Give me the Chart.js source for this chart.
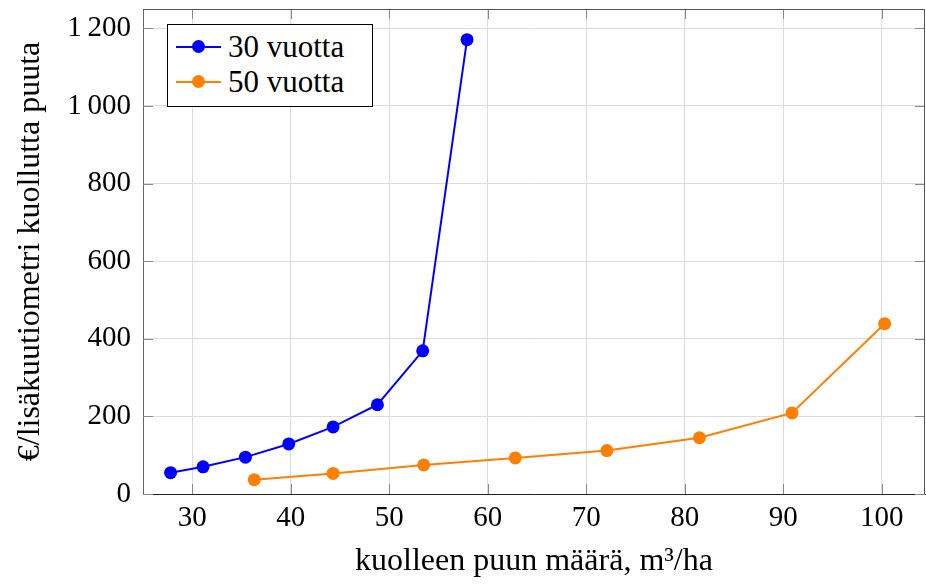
<!DOCTYPE html>
<html>
<head>
<meta charset="utf-8">
<script src="https://cdn.jsdelivr.net/npm/chart.js@4"></script>
<style>
  body { margin: 0; background: #fff; }
  #wrap { position: relative; width: 926px; height: 585px; }
  #legend {
    position: absolute; left: 167px; top: 24px; width: 206px; height: 83px;
    box-sizing: border-box; border: 1px solid #000; background: #fff;
    font-family: 'Liberation Serif', serif; font-size: 31px; padding-top: 4px;
  }
  .item { display: flex; align-items: center; height: 35px; padding-left: 8px; }
  .sym { position: relative; width: 45px; height: 2px; margin-right: 7px; }
  .sym span { position: absolute; left: 16px; top: -6px; width: 13px; height: 13px; border-radius: 50%; }
</style>
</head>
<body>
<div id="wrap">
  <canvas id="chart" width="926" height="585"></canvas>
  <div id="legend"></div>
</div>
<script>
// data
var seriesLabels = ['30 vuotta', '50 vuotta'];
var seriesColors = ['#0000ff', '#ff7f00'];
var x30 = [27.8, 31.1, 35.4, 39.8, 44.3, 48.8, 53.4, 57.9];
var y30 = [55, 70, 95, 129, 173, 230, 369, 1171];
var x50 = [36.3, 44.3, 53.5, 62.8, 72.1, 81.5, 90.9, 100.3];
var y50 = [37, 53, 75, 93, 112, 145, 209, 439];
var xTitle = 'kuolleen puun määrä, m³/ha';
var yTitle = '€/lisäkuutiometri kuollutta puuta';

var font = 'Liberation Serif';

function toPoints(xs, ys) {
  return xs.map(function (x, i) { return { x: x, y: ys[i] }; });
}

// top/right frame and the small inner tick marks
var framePlugin = {
  id: 'frame',
  beforeDatasetsDraw: function (chart) {
    var ctx = chart.ctx, a = chart.chartArea;
    var xs = chart.scales.x, ys = chart.scales.y;
    ctx.save();
    ctx.strokeStyle = '#888';
    ctx.lineWidth = 1;
    ctx.beginPath();
    xs.ticks.forEach(function (t) {
      var px = Math.round(xs.getPixelForValue(t.value)) + 0.5;
      ctx.moveTo(px, a.bottom); ctx.lineTo(px, a.bottom - 10);
      ctx.moveTo(px, a.top); ctx.lineTo(px, a.top + 10);
    });
    ys.ticks.forEach(function (t) {
      var py = Math.round(ys.getPixelForValue(t.value)) + 0.5;
      ctx.moveTo(a.left, py); ctx.lineTo(a.left + 10, py);
      ctx.moveTo(a.right, py); ctx.lineTo(a.right - 10, py);
    });
    ctx.stroke();
    ctx.strokeStyle = '#555';
    ctx.beginPath();
    ctx.moveTo(a.left, a.top + 0.5); ctx.lineTo(a.right, a.top + 0.5);
    ctx.moveTo(a.right - 0.5, a.top); ctx.lineTo(a.right - 0.5, a.bottom);
    ctx.stroke();
    ctx.restore();
  }
};

var chart = new Chart(document.getElementById('chart'), {
  type: 'line',
  data: {
    datasets: [
      { label: seriesLabels[0], data: toPoints(x30, y30) },
      { label: seriesLabels[1], data: toPoints(x50, y50) }
    ].map(function (d, i) {
      d.borderColor = seriesColors[i];
      d.backgroundColor = seriesColors[i];
      d.borderWidth = 2;
      d.pointRadius = 6.5;
      d.pointHoverRadius = 6.5;
      d.pointBorderWidth = 0;
      d.tension = 0;
      return d;
    })
  },
  options: {
    responsive: false,
    animation: false,
    layout: { autoPadding: false, padding: { top: 9, right: 1 } },
    plugins: { legend: { display: false }, tooltip: { enabled: false } },
    scales: {
      x: {
        type: 'linear',
        min: 25, max: 104.4,
        afterFit: function (s) { s.height = 91; s.paddingLeft = 0; s.paddingRight = 0; },
        grid: { color: '#dcdcdc', drawTicks: false },
        border: { color: '#222', width: 1 },
        ticks: { stepSize: 10, includeBounds: false, padding: 7, color: '#000',
                 font: { family: font, size: 29 } },
        title: { display: true, text: xTitle, color: '#000', padding: { bottom: 4 },
                 font: { family: font, size: 32 } }
      },
      y: {
        min: 0, max: 1250,
        afterFit: function (s) { s.width = 143; s.paddingTop = 0; s.paddingBottom = 0; },
        grid: { color: '#dcdcdc', drawTicks: false },
        border: { color: '#666', width: 1 },
        ticks: { stepSize: 200, includeBounds: false, padding: 12, color: '#000',
                 font: { family: font, size: 29 },
                 callback: function (v) {
                   return v >= 1000 ? Math.floor(v / 1000) + '\u2009' + String(v % 1000).padStart(3, '0') : String(v);
                 } },
        title: { display: true, text: yTitle, color: '#000', padding: { top: 11 },
                 font: { family: font, size: 32 } }
      }
    }
  },
  plugins: [framePlugin]
});

// legend inside the plot, built from the datasets
var legend = document.getElementById('legend');
chart.data.datasets.forEach(function (d) {
  var item = document.createElement('div');
  item.className = 'item';
  var sym = document.createElement('div');
  sym.className = 'sym';
  sym.style.background = d.borderColor;
  var dot = document.createElement('span');
  dot.style.background = d.borderColor;
  sym.appendChild(dot);
  var txt = document.createElement('div');
  txt.textContent = d.label;
  item.appendChild(sym);
  item.appendChild(txt);
  legend.appendChild(item);
});
</script>
</body>
</html>
